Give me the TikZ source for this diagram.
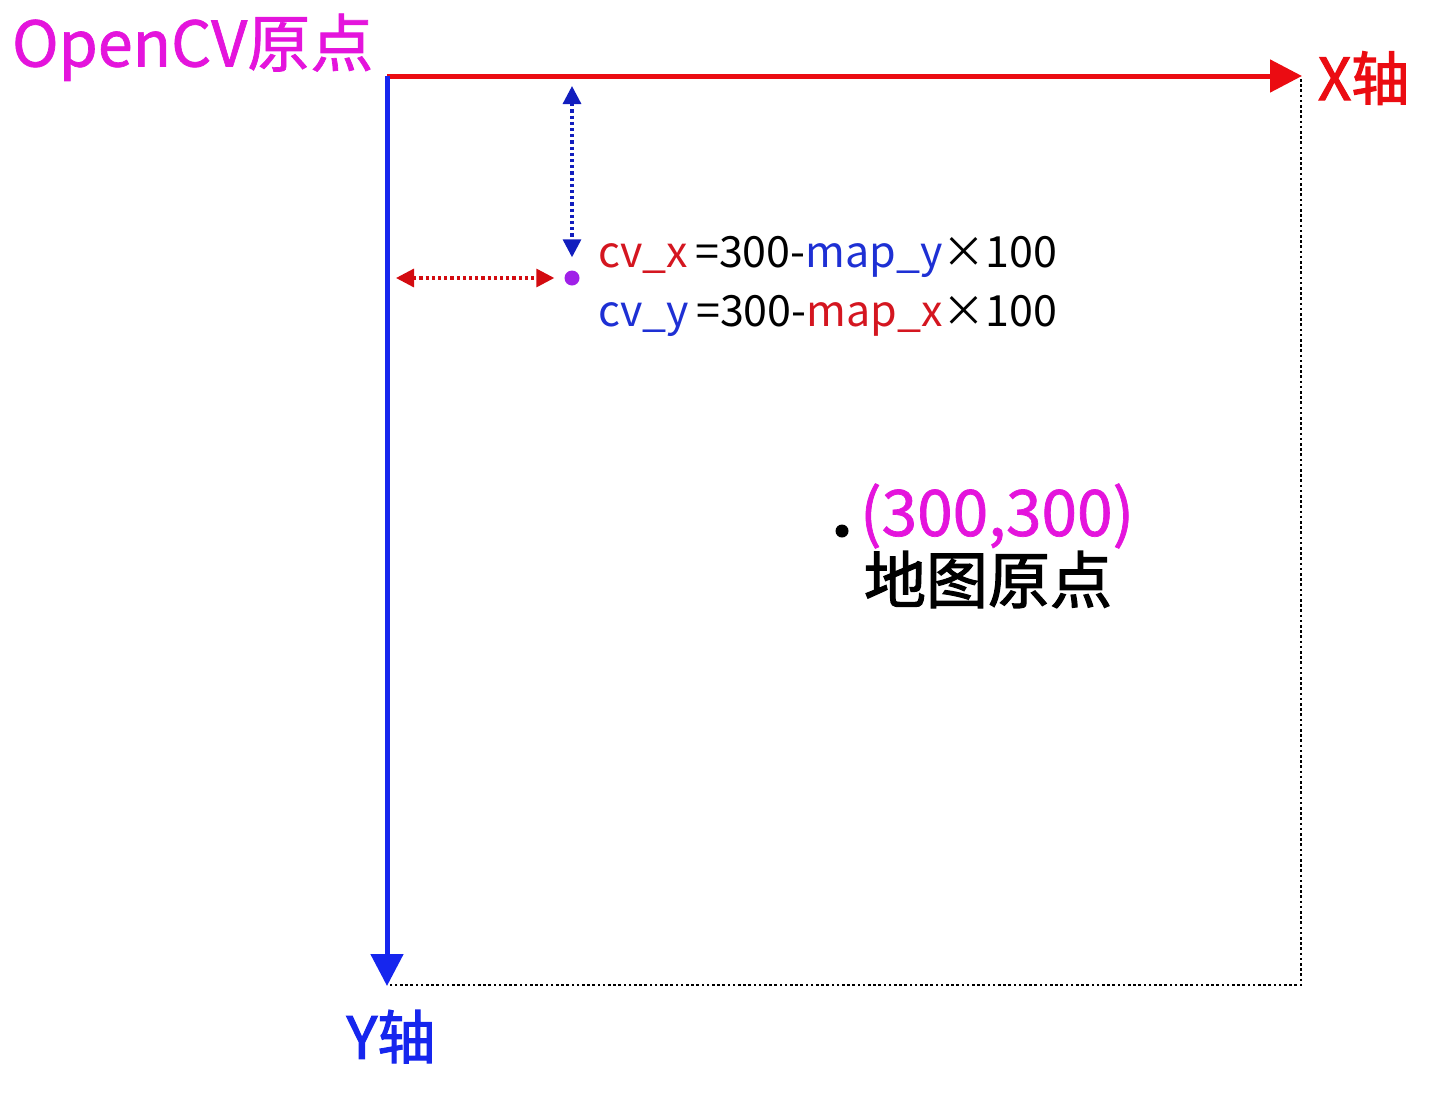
\documentclass[tikz,border=0pt]{standalone}
\usepackage{fontspec}
\newfontfamily\cjk{Noto Sans CJK SC}
\newfontfamily\cjkm[FakeBold=1.1]{Noto Sans CJK SC}
\newfontfamily\cjkb[FakeBold=2]{Noto Sans CJK SC}
\usetikzlibrary{arrows.meta}
\definecolor{cvmag}{RGB}{228,20,220}
\definecolor{axred}{RGB}{235,12,18}
\definecolor{axblue}{RGB}{22,38,238}
\definecolor{ptpurple}{RGB}{160,32,232}
\definecolor{eqred}{RGB}{212,22,32}
\definecolor{eqblue}{RGB}{30,48,212}

\begin{document}
\begin{tikzpicture}[x=1pt,y=-1pt]
\tikzstyle{txt}=[inner sep=0pt, outer sep=0pt, text=black]
\tikzstyle{axx}=[draw=axred, line width=5pt, -{Triangle[length=32pt,width=32pt]}]
\tikzstyle{axy}=[draw=axblue, line width=5pt, -{Triangle[length=32pt,width=32pt]}]
\tikzstyle{frame}=[draw=black, line width=2.6pt, dash pattern=on 2.6pt off 2.6pt]
\tikzstyle{dimb}=[draw=axblue!80!black, line width=3.2pt, dash pattern=on 3.2pt off 3pt, {Triangle[length=18pt,width=18pt]}-{Triangle[length=18pt,width=18pt]}]
\tikzstyle{dimr}=[draw=axred!90!black, line width=3.2pt, dash pattern=on 3.2pt off 3pt, {Triangle[length=18pt,width=18pt]}-{Triangle[length=18pt,width=18pt]}]
\tikzstyle{dot}=[circle, inner sep=0pt, minimum size=15pt]
\useasboundingbox (0,0) rectangle (1446,1095);

\coordinate (o) at (387,76);
\coordinate (xend) at (1302,76);
\coordinate (yend) at (387,986);
\coordinate (corner) at (1301,985);
\coordinate (btm) at (388,985);
\coordinate (xtop) at (1301,79);

\node (pt) [dot, fill=ptpurple] at (572,278) {};
\node (mapo) [dot, fill=black, minimum size=13pt] at (842,531) {};
\coordinate (uptop) at (572,86);
\coordinate (lftend) at (396,278);

\node (cvlbl) [txt, text=cvmag, anchor=south west, font=\cjkm\fontsize{63}{70}\selectfont] at (12,81) {OpenCV原点};
\node (xlbl) [txt, text=axred, anchor=west, font=\cjkb\fontsize{58}{70}\selectfont] at (1318,78) {X轴};
\node (ylbl) [txt, text=axblue, anchor=north, font=\cjkb\fontsize{58}{70}\selectfont] at (391,1010) {Y轴};

\node (eqa) [txt, anchor=base west, font=\cjk\fontsize{43}{52}\selectfont] at (598,267) {{\color{eqred}cv\_x}\,=300-{\color{eqblue}map\_y}×100};
\node (eqb) [txt, anchor=base west, font=\cjk\fontsize{43}{52}\selectfont] at (598,326) {{\color{eqblue}cv\_y}\,=300-{\color{eqred}map\_x}×100};

\node (mapxy) [txt, text=cvmag, anchor=west, font=\cjkm\fontsize{64}{70}\selectfont] at (860,516) {(300,300)};
\node (mapname) [txt, anchor=north west, font=\cjkb\fontsize{62}{70}\selectfont] at (864,551) {地图原点};

\draw[frame] (xtop) -- (corner) -- (btm);
\draw[axx] (o) -- (xend);
\draw[axy] (o) -- (yend);
\draw[dimb, shorten >=13pt] (uptop) -- (pt);
\draw[dimr, shorten >=10pt] (lftend) -- (pt);
\end{tikzpicture}
\end{document}
